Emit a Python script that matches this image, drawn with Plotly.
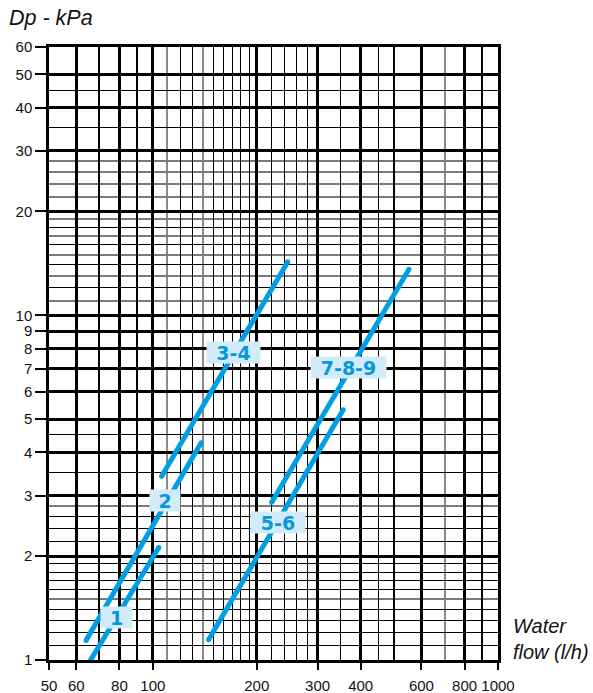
import numpy as np
import plotly.graph_objects as go

# ---------------- data ----------------
series_names = ["1", "2", "3-4", "5-6", "7-8-9"]
flow_start = [66.0, 64.0, 106.0, 145.0, 221.0]
flow_end = [104.0, 138.0, 246.0, 356.0, 552.0]
dp_start = [1.0, 1.14, 3.41, 1.145, 2.87]
dp_end = [2.12, 4.27, 14.3, 5.32, 13.6]

label_flow = [78.7, 108.4, 171.2, 230.5, 370.0]
label_dp = [1.325, 2.90, 7.78, 2.51, 7.04]
label_width = [31, 30, 53, 54, 75]

x_tick_vals = [50, 60, 80, 100, 200, 300, 400, 600, 800, 1000]
x_tick_text = ["50", "60", "80", "100", "200", "300", "400", "600", "800", "1000"]
y_tick_vals = [1, 2, 3, 4, 5, 6, 7, 8, 9, 10, 20, 30, 40, 50, 60]
y_tick_text = ["1", "2", "3", "4", "5", "6", "7", "8", "9", "10", "20", "30", "40", "50", "60"]

x_medium = [70, 90, 500, 900]
x_thin = [120, 130, 150, 160, 170, 180, 190, 220, 240, 260, 280, 350, 450]
x_gray = [110, 140, 700]
y_thin = [1.1, 1.2, 1.3, 1.4, 1.6, 1.7, 1.8, 1.9, 2.2, 2.4, 2.6, 3.5, 4.5,
          12, 14, 16, 18, 35, 45]
y_gray = [1.5, 2.8, 11, 13, 15, 17, 19, 22, 24, 26, 28]

# ---------------- style ----------------
BLUE = "#009fe3"
LABEL_BG = "#d2ebf9"
LABEL_FG = "#0598dd"
FONT = "Liberation Sans, Arial, Helvetica, sans-serif"
XR = [np.log10(50), np.log10(1000)]
YR = [0, np.log10(60)]

fig = go.Figure()

for name, x0, x1, y0, y1 in zip(series_names, flow_start, flow_end, dp_start, dp_end):
    fig.add_trace(go.Scatter(
        x=[x0, x1], y=[y0, y1], mode="lines+markers", name=name,
        line=dict(color=BLUE, width=5),
        marker=dict(color=BLUE, size=5),
        showlegend=False, hoverinfo="skip",
    ))

# dummy trace for overlay grid axes
fig.add_trace(go.Scatter(
    x=[50, 1000], y=[1, 60], mode="markers", marker=dict(opacity=0),
    xaxis="x2", yaxis="y2", showlegend=False, hoverinfo="skip",
))

for name, lx, ly, w in zip(series_names, label_flow, label_dp, label_width):
    fig.add_annotation(
        x=np.log10(lx), y=np.log10(ly), xref="x", yref="y",
        text="<b>%s</b>" % name, showarrow=False,
        font=dict(family="DejaVu Sans", size=19, color=LABEL_FG),
        bgcolor=LABEL_BG, width=w, height=21, borderpad=0,
        xanchor="center", yanchor="middle",
    )

fig.add_annotation(
    x=-0.093, y=1.047, xref="paper", yref="paper", xanchor="left", yanchor="middle",
    text="<i>Dp - kPa</i>", showarrow=False,
    font=dict(family=FONT, size=21.5, color="#111"),
)
fig.add_annotation(
    x=1.03, y=0.034, xref="paper", yref="paper", xanchor="left", yanchor="middle",
    text="<i>Water<br>flow (l/h)</i>", showarrow=False, align="left",
    font=dict(family=FONT, size=20, color="#111"),
)

fig.update_layout(
    width=593, height=693,
    margin=dict(l=49, r=95, t=47, b=33, autoexpand=False),
    paper_bgcolor="white", plot_bgcolor="white",
    font=dict(family=FONT, size=15, color="#111"),
    xaxis=dict(
        type="log", range=XR, tickmode="array", tickvals=x_tick_vals, ticktext=x_tick_text,
        showgrid=True, gridcolor="#000", gridwidth=2.5, automargin=False,
        ticks="outside", ticklen=7, tickwidth=2, tickcolor="#000",
        ticklabelstandoff=3,
        showline=True, linecolor="#000", linewidth=2.5, mirror=True,
        zeroline=False,
        minor=dict(tickmode="array", tickvals=x_gray, showgrid=True,
                   gridcolor="#8a8a8a", gridwidth=1.6, ticks=""),
        tickfont=dict(size=15, color="#111"),
    ),
    yaxis=dict(
        type="log", range=YR, tickmode="array", tickvals=y_tick_vals, ticktext=y_tick_text,
        showgrid=True, gridcolor="#000", gridwidth=2.5, automargin=False,
        ticks="outside", ticklen=11, tickwidth=2, tickcolor="#000",
        showline=True, linecolor="#000", linewidth=2.5, mirror=True,
        zeroline=False,
        minor=dict(tickmode="array", tickvals=y_gray, showgrid=True,
                   gridcolor="#7a7a7a", gridwidth=1.6, ticks=""),
        tickfont=dict(size=15, color="#111"),
    ),
    xaxis2=dict(
        type="log", range=XR, overlaying="x", anchor="y2", automargin=False,
        tickmode="array", tickvals=x_medium, showticklabels=False, ticks="",
        showgrid=True, gridcolor="#000", gridwidth=1.9, zeroline=False,
        minor=dict(tickmode="array", tickvals=x_thin, showgrid=True,
                   gridcolor="#000", gridwidth=1.4, ticks=""),
    ),
    yaxis2=dict(
        type="log", range=YR, overlaying="y", anchor="x2", automargin=False,
        tickmode="array", tickvals=y_thin, showticklabels=False, ticks="",
        showgrid=True, gridcolor="#000", gridwidth=1.4, zeroline=False,
    ),
)

fig.write_html(
    "out.html",
    config={"displayModeBar": False},
    post_script="document.body.style.margin='0';document.body.style.overflow='hidden';",
)
